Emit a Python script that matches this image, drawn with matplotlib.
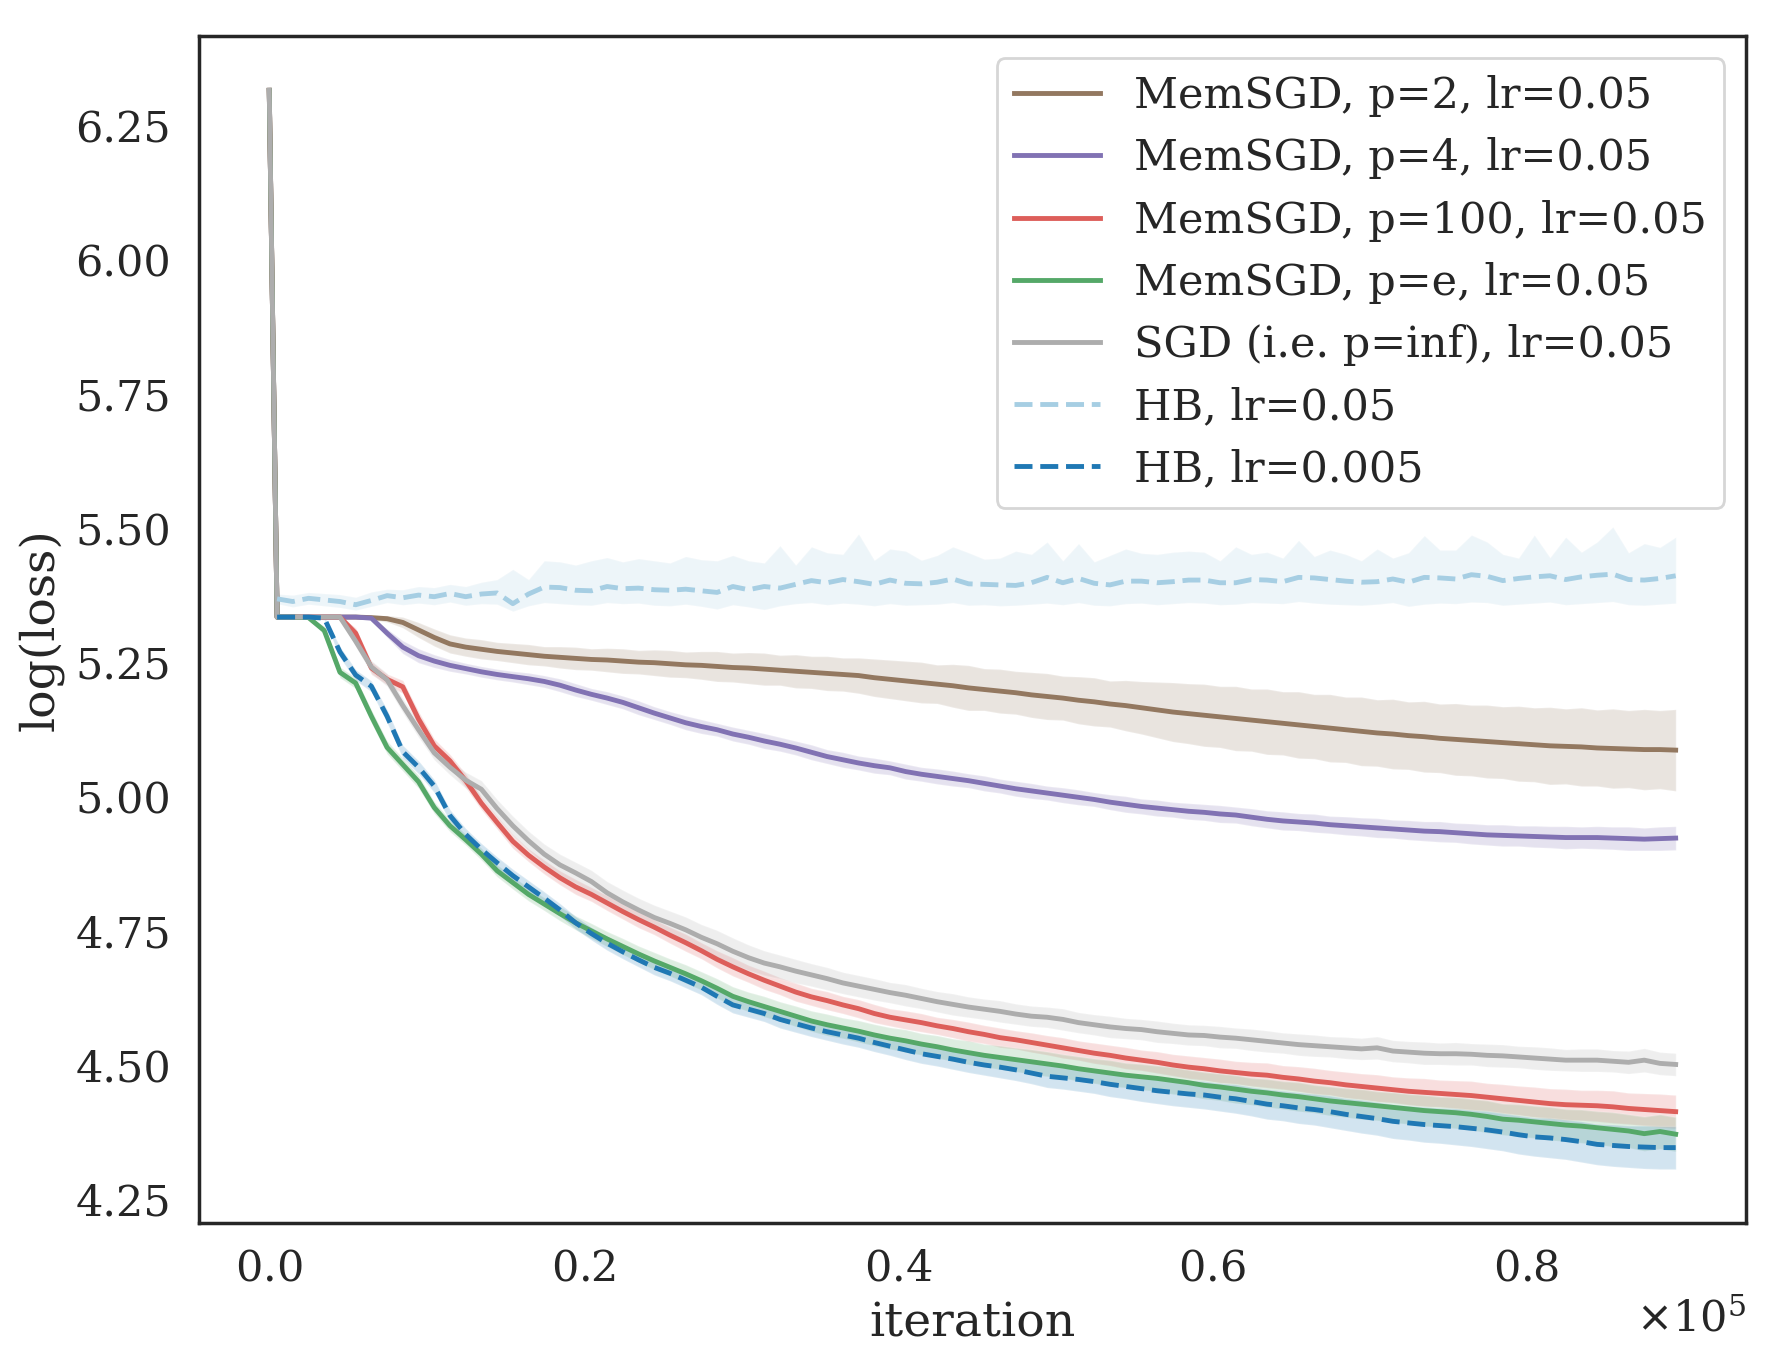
import numpy as np
import matplotlib
matplotlib.use("Agg")
import matplotlib.pyplot as plt
from matplotlib.ticker import ScalarFormatter

# ---------------- data ----------------
iterations = np.concatenate([[0], np.arange(500, 90000, 1000)])

labels = ["MemSGD, p=2, lr=0.05", "MemSGD, p=4, lr=0.05", "MemSGD, p=100, lr=0.05",
          "MemSGD, p=e, lr=0.05", "SGD (i.e. p=inf), lr=0.05", "HB, lr=0.05", "HB, lr=0.005"]

mem_p2 = [6.317, 5.335, 5.335, 5.335, 5.335, 5.335, 5.335, 5.334, 5.332, 5.325,
          5.311, 5.297, 5.285, 5.279, 5.275, 5.271, 5.268, 5.265, 5.262, 5.260,
          5.258, 5.256, 5.255, 5.253, 5.251, 5.250, 5.248, 5.246, 5.245, 5.243,
          5.241, 5.240, 5.238, 5.236, 5.234, 5.232, 5.230, 5.228, 5.226, 5.222,
          5.219, 5.216, 5.213, 5.210, 5.207, 5.203, 5.200, 5.197, 5.194, 5.190,
          5.187, 5.184, 5.180, 5.177, 5.173, 5.170, 5.166, 5.162, 5.158, 5.155,
          5.152, 5.149, 5.146, 5.143, 5.140, 5.137, 5.134, 5.131, 5.128, 5.125,
          5.122, 5.119, 5.117, 5.114, 5.112, 5.109, 5.107, 5.105, 5.103, 5.101,
          5.099, 5.097, 5.095, 5.094, 5.093, 5.091, 5.090, 5.089, 5.088, 5.088,
          5.087]
mem_p2_sd = [0, 0.003, 0.003, 0.003, 0.003, 0.003, 0.003, 0.004, 0.006, 0.010,
             0.014, 0.016, 0.017, 0.017, 0.018, 0.017, 0.018, 0.019, 0.018, 0.020,
             0.021, 0.020, 0.022, 0.023, 0.022, 0.024, 0.025, 0.024, 0.026, 0.028,
             0.027, 0.029, 0.030, 0.028, 0.031, 0.030, 0.032, 0.031, 0.033, 0.035,
             0.036, 0.037, 0.038, 0.036, 0.040, 0.042, 0.039, 0.041, 0.040, 0.042,
             0.043, 0.041, 0.044, 0.045, 0.043, 0.047, 0.049, 0.052, 0.055, 0.056,
             0.058, 0.057, 0.060, 0.058, 0.061, 0.059, 0.062, 0.060, 0.063, 0.061,
             0.064, 0.062, 0.065, 0.063, 0.066, 0.064, 0.067, 0.066, 0.068, 0.067,
             0.070, 0.069, 0.072, 0.070, 0.073, 0.071, 0.074, 0.072, 0.075, 0.073,
             0.076]

mem_p4 = [6.317, 5.335, 5.335, 5.335, 5.335, 5.335, 5.335, 5.333, 5.305, 5.279,
          5.263, 5.253, 5.245, 5.239, 5.233, 5.228, 5.224, 5.220, 5.215, 5.208,
          5.199, 5.191, 5.184, 5.176, 5.166, 5.156, 5.147, 5.138, 5.131, 5.125,
          5.117, 5.111, 5.104, 5.098, 5.091, 5.083, 5.075, 5.069, 5.063, 5.058,
          5.054, 5.047, 5.042, 5.038, 5.034, 5.030, 5.025, 5.020, 5.015, 5.011,
          5.007, 5.003, 4.999, 4.995, 4.990, 4.986, 4.982, 4.979, 4.976, 4.973,
          4.971, 4.968, 4.966, 4.962, 4.958, 4.955, 4.953, 4.951, 4.948, 4.946,
          4.944, 4.942, 4.940, 4.938, 4.936, 4.935, 4.933, 4.931, 4.929, 4.928,
          4.927, 4.926, 4.925, 4.924, 4.924, 4.924, 4.923, 4.922, 4.921, 4.922,
          4.923]
mem_p4_sd = [0, 0.002, 0.002, 0.002, 0.002, 0.002, 0.002, 0.003, 0.008, 0.012,
             0.013, 0.012, 0.011, 0.010, 0.010, 0.010, 0.010, 0.011, 0.011, 0.012,
             0.012, 0.011, 0.012, 0.012, 0.013, 0.012, 0.012, 0.013, 0.013, 0.012,
             0.013, 0.013, 0.014, 0.013, 0.013, 0.014, 0.013, 0.014, 0.013, 0.014,
             0.013, 0.014, 0.013, 0.014, 0.014, 0.013, 0.014, 0.013, 0.014, 0.014,
             0.013, 0.014, 0.014, 0.013, 0.014, 0.015, 0.014, 0.015, 0.014, 0.015,
             0.015, 0.016, 0.015, 0.016, 0.016, 0.017, 0.016, 0.017, 0.016, 0.017,
             0.017, 0.018, 0.017, 0.018, 0.018, 0.019, 0.018, 0.019, 0.019, 0.020,
             0.019, 0.020, 0.020, 0.021, 0.020, 0.021, 0.021, 0.022, 0.021, 0.022,
             0.022]

mem_p100 = [6.317, 5.335, 5.335, 5.335, 5.335, 5.335, 5.305, 5.240, 5.219, 5.205,
            5.145, 5.095, 5.067, 5.030, 4.988, 4.952, 4.917, 4.891, 4.869, 4.849,
            4.832, 4.818, 4.802, 4.786, 4.771, 4.757, 4.742, 4.728, 4.713, 4.697,
            4.683, 4.670, 4.658, 4.647, 4.636, 4.627, 4.620, 4.612, 4.605, 4.596,
            4.589, 4.584, 4.579, 4.573, 4.568, 4.562, 4.557, 4.551, 4.547, 4.542,
            4.537, 4.532, 4.527, 4.522, 4.518, 4.513, 4.509, 4.505, 4.500, 4.496,
            4.493, 4.489, 4.486, 4.483, 4.481, 4.477, 4.474, 4.470, 4.467, 4.463,
            4.460, 4.457, 4.454, 4.451, 4.449, 4.447, 4.445, 4.443, 4.440, 4.437,
            4.434, 4.431, 4.428, 4.426, 4.425, 4.424, 4.422, 4.419, 4.417, 4.415,
            4.413]
mem_p100_sd = [0, 0.002, 0.002, 0.002, 0.002, 0.003, 0.010, 0.012, 0.010, 0.012,
               0.014, 0.013, 0.012, 0.013, 0.012, 0.012, 0.013, 0.012, 0.013, 0.013,
               0.014, 0.013, 0.014, 0.014, 0.015, 0.014, 0.015, 0.016, 0.015, 0.016,
               0.017, 0.016, 0.017, 0.016, 0.017, 0.016, 0.017, 0.016, 0.017, 0.017,
               0.016, 0.017, 0.017, 0.016, 0.017, 0.018, 0.017, 0.018, 0.017, 0.018,
               0.018, 0.019, 0.018, 0.019, 0.019, 0.020, 0.019, 0.020, 0.020, 0.021,
               0.021, 0.022, 0.021, 0.022, 0.023, 0.022, 0.023, 0.024, 0.023, 0.024,
               0.024, 0.025, 0.024, 0.025, 0.026, 0.025, 0.026, 0.027, 0.026, 0.027,
               0.027, 0.028, 0.028, 0.029, 0.028, 0.029, 0.030, 0.029, 0.030, 0.031,
               0.031]

mem_pe = [6.317, 5.335, 5.335, 5.334, 5.310, 5.232, 5.212, 5.150, 5.092, 5.060,
          5.028, 4.980, 4.946, 4.920, 4.893, 4.862, 4.840, 4.818, 4.800, 4.782,
          4.765, 4.750, 4.735, 4.721, 4.707, 4.694, 4.682, 4.670, 4.657, 4.643,
          4.628, 4.618, 4.609, 4.600, 4.591, 4.582, 4.575, 4.569, 4.563, 4.556,
          4.550, 4.545, 4.539, 4.534, 4.528, 4.523, 4.518, 4.514, 4.510, 4.506,
          4.502, 4.498, 4.493, 4.489, 4.485, 4.481, 4.478, 4.475, 4.471, 4.467,
          4.462, 4.459, 4.455, 4.451, 4.448, 4.444, 4.441, 4.437, 4.433, 4.430,
          4.427, 4.424, 4.421, 4.418, 4.415, 4.413, 4.411, 4.408, 4.404, 4.399,
          4.397, 4.394, 4.391, 4.388, 4.386, 4.383, 4.380, 4.377, 4.372, 4.376,
          4.371]
mem_pe_sd = [0, 0.002, 0.002, 0.002, 0.008, 0.010, 0.010, 0.012, 0.012, 0.012,
             0.012, 0.011, 0.011, 0.010, 0.011, 0.011, 0.012, 0.012, 0.012, 0.013,
             0.013, 0.014, 0.014, 0.015, 0.015, 0.016, 0.016, 0.017, 0.017, 0.018,
             0.018, 0.018, 0.019, 0.018, 0.019, 0.019, 0.020, 0.019, 0.020, 0.020,
             0.020, 0.021, 0.020, 0.021, 0.021, 0.022, 0.021, 0.022, 0.022, 0.023,
             0.023, 0.022, 0.023, 0.023, 0.024, 0.023, 0.024, 0.024, 0.025, 0.024,
             0.025, 0.025, 0.026, 0.025, 0.026, 0.026, 0.027, 0.026, 0.027, 0.027,
             0.028, 0.027, 0.028, 0.028, 0.029, 0.028, 0.029, 0.029, 0.030, 0.029,
             0.030, 0.030, 0.031, 0.030, 0.031, 0.031, 0.032, 0.031, 0.032, 0.032,
             0.032]

sgd = [6.317, 5.335, 5.335, 5.335, 5.335, 5.335, 5.290, 5.242, 5.218, 5.170,
       5.125, 5.082, 5.055, 5.031, 5.014, 4.978, 4.946, 4.918, 4.893, 4.873,
       4.858, 4.842, 4.821, 4.804, 4.789, 4.775, 4.764, 4.752, 4.738, 4.726,
       4.712, 4.700, 4.690, 4.683, 4.675, 4.668, 4.661, 4.653, 4.647, 4.641,
       4.635, 4.630, 4.624, 4.618, 4.613, 4.608, 4.604, 4.600, 4.595, 4.591,
       4.589, 4.585, 4.579, 4.575, 4.571, 4.568, 4.566, 4.562, 4.559, 4.556,
       4.555, 4.552, 4.550, 4.547, 4.544, 4.541, 4.538, 4.536, 4.534, 4.532,
       4.530, 4.532, 4.526, 4.524, 4.522, 4.521, 4.521, 4.520, 4.518, 4.517,
       4.515, 4.513, 4.511, 4.509, 4.509, 4.509, 4.507, 4.505, 4.509, 4.503,
       4.501]
sgd_sd = [0, 0.002, 0.002, 0.002, 0.002, 0.003, 0.010, 0.012, 0.012, 0.013,
          0.014, 0.013, 0.014, 0.015, 0.016, 0.017, 0.018, 0.018, 0.019, 0.020,
          0.020, 0.021, 0.021, 0.022, 0.022, 0.023, 0.023, 0.024, 0.024, 0.025,
          0.025, 0.024, 0.023, 0.022, 0.022, 0.021, 0.021, 0.020, 0.020, 0.020,
          0.019, 0.020, 0.019, 0.019, 0.020, 0.019, 0.019, 0.020, 0.019, 0.019,
          0.019, 0.020, 0.019, 0.019, 0.020, 0.019, 0.019, 0.020, 0.019, 0.019,
          0.019, 0.020, 0.019, 0.020, 0.020, 0.019, 0.020, 0.020, 0.019, 0.020,
          0.020, 0.021, 0.020, 0.020, 0.021, 0.020, 0.021, 0.020, 0.021, 0.021,
          0.020, 0.021, 0.021, 0.020, 0.021, 0.021, 0.020, 0.021, 0.022, 0.021,
          0.021]

hb_005 = [np.nan, 5.369, 5.364, 5.370, 5.367, 5.364, 5.358, 5.366, 5.375, 5.371,
          5.376, 5.373, 5.379, 5.373, 5.378, 5.380, 5.360, 5.378, 5.391, 5.390,
          5.385, 5.384, 5.392, 5.388, 5.389, 5.386, 5.385, 5.387, 5.384, 5.381,
          5.392, 5.386, 5.392, 5.389, 5.396, 5.403, 5.399, 5.405, 5.401, 5.396,
          5.404, 5.398, 5.397, 5.400, 5.406, 5.397, 5.396, 5.395, 5.394, 5.399,
          5.409, 5.399, 5.407, 5.398, 5.395, 5.402, 5.402, 5.399, 5.401, 5.404,
          5.404, 5.399, 5.399, 5.405, 5.404, 5.401, 5.409, 5.408, 5.405, 5.402,
          5.400, 5.401, 5.406, 5.400, 5.409, 5.408, 5.406, 5.414, 5.411, 5.403,
          5.407, 5.410, 5.412, 5.405, 5.410, 5.413, 5.415, 5.405, 5.404, 5.407,
          5.412]
hb_005_hi = [np.nan, 5.378, 5.376, 5.381, 5.379, 5.377, 5.372, 5.382, 5.387, 5.386,
             5.392, 5.390, 5.396, 5.392, 5.400, 5.405, 5.424, 5.405, 5.440, 5.438,
             5.432, 5.440, 5.446, 5.438, 5.444, 5.440, 5.436, 5.448, 5.442, 5.440,
             5.450, 5.440, 5.436, 5.468, 5.432, 5.466, 5.455, 5.452, 5.490, 5.441,
             5.462, 5.458, 5.441, 5.450, 5.466, 5.455, 5.443, 5.445, 5.458, 5.452,
             5.475, 5.440, 5.472, 5.438, 5.450, 5.462, 5.454, 5.452, 5.456, 5.458,
             5.456, 5.440, 5.466, 5.452, 5.456, 5.445, 5.478, 5.448, 5.460, 5.452,
             5.440, 5.462, 5.445, 5.455, 5.487, 5.460, 5.460, 5.488, 5.475, 5.452,
             5.445, 5.488, 5.446, 5.484, 5.456, 5.475, 5.503, 5.455, 5.472, 5.465,
             5.484]
hb_005_lo = [np.nan, 5.360, 5.354, 5.359, 5.356, 5.353, 5.348, 5.355, 5.362, 5.358,
             5.361, 5.358, 5.363, 5.357, 5.360, 5.359, 5.346, 5.356, 5.362, 5.360,
             5.358, 5.357, 5.362, 5.360, 5.361, 5.357, 5.356, 5.359, 5.355, 5.350,
             5.358, 5.354, 5.349, 5.356, 5.360, 5.362, 5.358, 5.361, 5.359, 5.356,
             5.360, 5.357, 5.358, 5.359, 5.362, 5.357, 5.358, 5.356, 5.357, 5.359,
             5.361, 5.358, 5.362, 5.357, 5.356, 5.360, 5.361, 5.358, 5.360, 5.362,
             5.361, 5.358, 5.359, 5.362, 5.361, 5.360, 5.364, 5.361, 5.359, 5.358,
             5.357, 5.359, 5.362, 5.355, 5.359, 5.361, 5.360, 5.363, 5.362, 5.357,
             5.359, 5.361, 5.363, 5.358, 5.360, 5.362, 5.364, 5.358, 5.357, 5.359,
             5.361]

hb_0005 = [np.nan, 5.335, 5.335, 5.335, 5.333, 5.270, 5.227, 5.206, 5.150, 5.084,
           5.055, 5.020, 4.965, 4.930, 4.902, 4.877, 4.853, 4.832, 4.811, 4.789,
           4.765, 4.745, 4.727, 4.711, 4.696, 4.682, 4.671, 4.658, 4.645, 4.628,
           4.612, 4.604, 4.596, 4.585, 4.577, 4.569, 4.562, 4.556, 4.550, 4.542,
           4.535, 4.528, 4.521, 4.516, 4.511, 4.505, 4.500, 4.496, 4.491, 4.485,
           4.479, 4.476, 4.473, 4.469, 4.464, 4.460, 4.456, 4.452, 4.449, 4.446,
           4.444, 4.440, 4.437, 4.432, 4.427, 4.424, 4.420, 4.417, 4.413, 4.408,
           4.404, 4.400, 4.395, 4.392, 4.389, 4.387, 4.385, 4.382, 4.379, 4.375,
           4.370, 4.366, 4.364, 4.361, 4.357, 4.352, 4.350, 4.348, 4.347, 4.346,
           4.346]
hb_0005_sd = [np.nan, 0.002, 0.002, 0.002, 0.003, 0.010, 0.010, 0.010, 0.012, 0.012,
              0.012, 0.012, 0.011, 0.011, 0.011, 0.011, 0.012, 0.012, 0.012, 0.012,
              0.012, 0.012, 0.013, 0.013, 0.013, 0.014, 0.014, 0.014, 0.014, 0.015,
              0.015, 0.015, 0.015, 0.016, 0.016, 0.016, 0.016, 0.017, 0.017, 0.017,
              0.017, 0.018, 0.018, 0.018, 0.019, 0.019, 0.019, 0.020, 0.020, 0.020,
              0.021, 0.021, 0.022, 0.022, 0.023, 0.023, 0.024, 0.024, 0.025, 0.025,
              0.026, 0.026, 0.027, 0.027, 0.028, 0.028, 0.029, 0.029, 0.030, 0.030,
              0.031, 0.031, 0.032, 0.032, 0.033, 0.033, 0.034, 0.034, 0.035, 0.035,
              0.036, 0.036, 0.037, 0.037, 0.038, 0.038, 0.039, 0.039, 0.040, 0.040,
              0.040]

colors = ["#937860", "#8172B3", "#DD5E5A", "#55A868", "#ADADAD", "#A6CEE3", "#1F78B4"]
styles = ["-", "-", "-", "-", "-", "--", "--"]

# ---------------- style ----------------
plt.rcParams.update({
    "font.family": ["DejaVu Serif"],
    "axes.edgecolor": "#262626",
    "axes.linewidth": 1.25,
    "text.color": "#262626",
    "axes.labelcolor": "#262626",
    "xtick.color": "#262626",
    "ytick.color": "#262626",
})

fig = plt.figure(figsize=(8.92, 6.84), dpi=200)
ax = fig.add_axes([0.1115, 0.106, 0.8672, 0.8674])

x = iterations
series = [
    (np.array(mem_p2), np.array(mem_p2) - np.array(mem_p2_sd), np.array(mem_p2) + np.array(mem_p2_sd)),
    (np.array(mem_p4), np.array(mem_p4) - np.array(mem_p4_sd), np.array(mem_p4) + np.array(mem_p4_sd)),
    (np.array(mem_p100), np.array(mem_p100) - np.array(mem_p100_sd), np.array(mem_p100) + np.array(mem_p100_sd)),
    (np.array(mem_pe), np.array(mem_pe) - np.array(mem_pe_sd), np.array(mem_pe) + np.array(mem_pe_sd)),
    (np.array(sgd), np.array(sgd) - np.array(sgd_sd), np.array(sgd) + np.array(sgd_sd)),
    (np.array(hb_005), np.array(hb_005_lo), np.array(hb_005_hi)),
    (np.array(hb_0005), np.array(hb_0005) - np.array(hb_0005_sd), np.array(hb_0005) + np.array(hb_0005_sd)),
]

for (mean, lo, hi), c, ls, lab in zip(series, colors, styles, labels):
    ax.fill_between(x, lo, hi, color=c, alpha=0.2, edgecolor="white", linewidth=0.6)
    ax.plot(x, mean, color=c, linestyle=ls, linewidth=1.75, label=lab)

fmt = ScalarFormatter(useMathText=True)
fmt.set_powerlimits((5, 5))
ax.xaxis.set_major_formatter(fmt)
ax.set_yticks([4.25, 4.50, 4.75, 5.00, 5.25, 5.50, 5.75, 6.00, 6.25])
ax.tick_params(axis="both", length=0, labelsize=15.5)
ax.tick_params(axis="y", pad=10)
ax.tick_params(axis="x", pad=9)
ax.xaxis.get_offset_text().set_fontsize(15.5)

ax.set_xlabel("iteration", fontsize=17)
ax.set_ylabel("log(loss)", fontsize=17)

ax.legend(loc="upper right", fontsize=15.5, framealpha=0.8, edgecolor="#cccccc",
          labelspacing=0.47)

fig.savefig("out.png", dpi=200)
